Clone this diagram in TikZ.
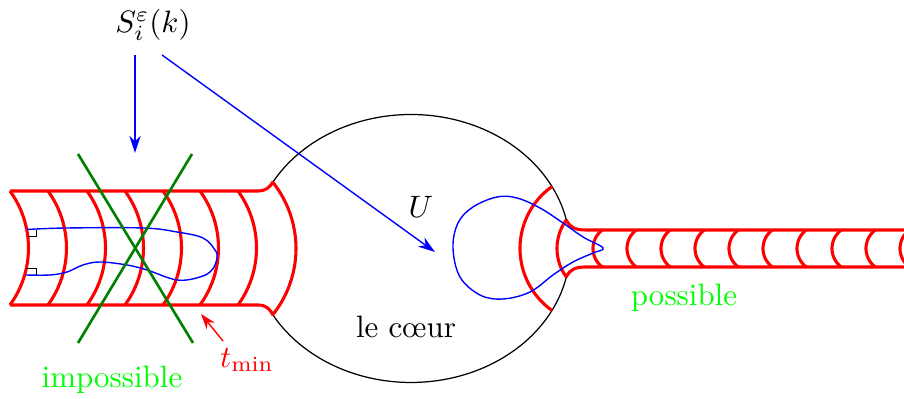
\documentclass[tikz,border=0pt]{standalone}
\usepackage{fontspec}
\usetikzlibrary{arrows.meta}
\begin{document}
\begin{tikzpicture}[x=0.323pt,y=-0.323pt,
  redl/.style={red,line width=1pt,line join=round},
  greenl/.style={green!50!black,line width=0.85pt},
  bluel/.style={blue,line width=0.45pt},
  blueatip/.style={blue,line width=0.45pt,-{Stealth[length=5.5pt,width=3.6pt]}},
  redatip/.style={red,line width=0.45pt,-{Stealth[length=5pt,width=3.4pt]}},
  lab/.style={inner sep=1pt}]
\useasboundingbox (0,0) rectangle (904,399);
% heart (ellipse, with two openings)
\draw[black,line width=0.4pt] plot[domain=12.3:150,samples=80,variable=\t] ({411+159*cos(\t)},{248.5+134*sin(\t)});
\draw[black,line width=0.4pt] plot[domain=210:347.7,samples=80,variable=\t] ({411+159*cos(\t)},{248.5+134*sin(\t)});
% left tube
\draw[redl] (10,191) -- (258,191) .. controls (266,191) and (270,187) .. (273.3,181.5);
\draw[redl] (10,305) -- (258,305) .. controls (266,305) and (270,309) .. (273.3,315.5);
\foreach \xx in {10,48,87,125,163,200,238}
  \draw[redl] plot[domain=-36:36,samples=25,variable=\t] ({\xx+18.5-97+97*cos(\t)},{248+97*sin(\t)});
\draw[redl] plot[domain=-38.4:38.4,samples=25,variable=\t] ({189.8+106.2*cos(\t)},{248.5+106.2*sin(\t)});
% right tube
\begin{scope}
\clip (0,0) rectangle (904,399);
\draw[redl] (566.3,220) .. controls (570,228) and (576,230) .. (586,230) -- (910,230);
\draw[redl] (566.3,277) .. controls (570,269) and (576,267) .. (586,267) -- (910,267);
\foreach \xx in {593,627,661,695,729,763,797,832,866,900}
  \draw[redl] plot[domain=126.5:233.5,samples=20,variable=\t] ({\xx+23+23*cos(\t)},{248.5+23*sin(\t)});
\end{scope}
\draw[redl] plot[domain=143.8:216.2,samples=25,variable=\t] ({605.3+48.3*cos(\t)},{248.5+48.3*sin(\t)});
\draw[redl] plot[domain=125.4:234.6,samples=40,variable=\t] ({596+76*cos(\t)},{248.5+76*sin(\t)});
% blue curves
\draw[bluel] plot[smooth,tension=0.6] coordinates {(27,229.5) (67,228) (143,228) (177,232) (203,238) (215,250) (217,258) (212,270) (200,277) (177,280) (147,270) (127,265) (100,262) (83,265) (67,272) (50,275) (25.5,275)};
\draw[bluel] plot[smooth cycle,tension=0.6] coordinates {(603,248) (583,237) (563,223) (540,208) (517,198) (497,197) (473,207) (458,223) (453,248) (460,277) (480,295) (503,299) (530,292) (553,275) (573,262) (593,253)};
% right-angle marks
\draw[black,line width=0.35pt] (36.7,230) -- (36.7,236.7) -- (27.5,236.7);
\draw[black,line width=0.35pt] (26,268.3) -- (36.7,268.3) -- (36.7,275);
% green cross
\coordinate (g1) at (78,154); \coordinate (g2) at (193,343);
\coordinate (g3) at (192,154); \coordinate (g4) at (78,343);
\draw[greenl] (g1) -- (g2);
\draw[greenl] (g3) -- (g4);
% labels
\node[lab] (S) at (153,25) {$S_i^\varepsilon(k)$};
\node[lab] (U) at (421,207) {$U$};
\node[lab] (coeur) at (406,327) {le cœur};
\node[lab,text=green] (imp) at (112,380) {impossible};
\node[lab,text=green] (pos) at (684,298) {possible};
\node[lab,text=red] (tmin) at (247,360) {$t_{\min}$};
% arrows
\coordinate (s1) at (135,55); \coordinate (e1) at (135,153);
\coordinate (s2) at (162,55); \coordinate (e2) at (435,252);
\draw[blueatip] (s1) -- (e1);
\draw[blueatip] (s2) -- (e2);
\coordinate (ta) at (223,341); \coordinate (tb) at (201,314);
\draw[redatip] (ta) -- (tb);
\end{tikzpicture}
\end{document}
